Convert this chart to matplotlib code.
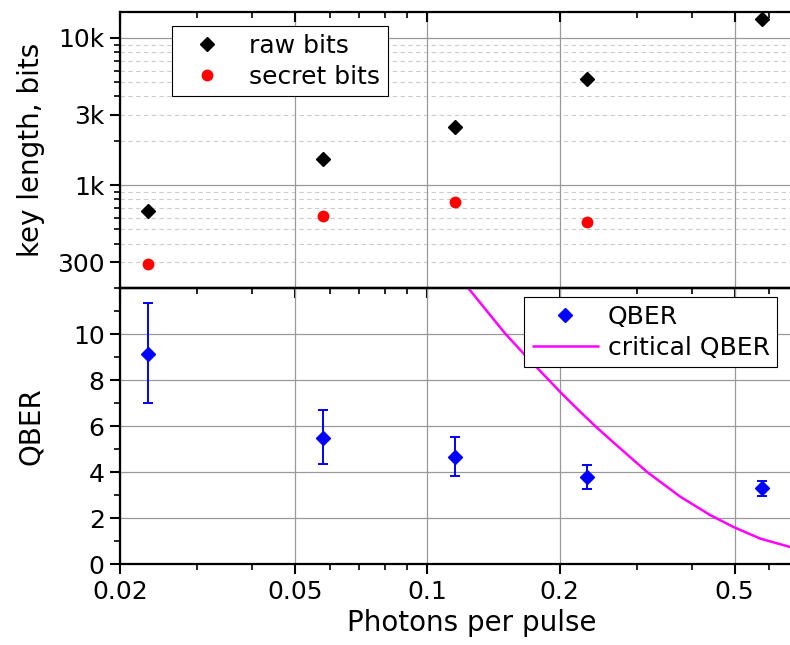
import numpy as np
import matplotlib
matplotlib.use("Agg")
import matplotlib.pyplot as plt
from matplotlib.ticker import FixedLocator, FixedFormatter, NullFormatter

plt.rcParams['font.family'] = ['DejaVu Sans']
plt.rcParams['font.size'] = 18

# mean photon number per pulse
photons = [0.0232, 0.058, 0.1156, 0.231, 0.577]

# key lengths (bits)
raw_bits = [667, 1500, 2500, 5230, 13370]
secret_bits = [292, 617, 767, 562]

# QBER (%) with error bars
qber = [9.15, 5.5, 4.68, 3.8, 3.3]
qber_hi = [11.35, 6.7, 5.52, 4.33, 3.62]
qber_lo = [7.0, 4.35, 3.83, 3.26, 2.96]

# critical QBER curve
crit_x = [0.1236, 0.1502, 0.1654, 0.2004, 0.2225, 0.2429, 0.2651,
          0.3156, 0.3758, 0.4396, 0.497, 0.571, 0.669]
crit_y = [12.02, 10.03, 9.16, 7.49, 6.63, 5.94, 5.29,
          4.02, 2.94, 2.14, 1.62, 1.12, 0.75]

x_major = [0.02, 0.05, 0.1, 0.2, 0.5]
x_minor = [0.03, 0.04, 0.06, 0.07, 0.08, 0.09, 0.3, 0.4, 0.6]
x_labels = ['0.02', '0.05', '0.1', '0.2', '0.5']

k_major = [300, 1000, 3000, 10000]
k_labels = ['300', '1k', '3k', '10k']
k_minor = [200, 400, 500, 600, 700, 800, 900,
           2000, 4000, 5000, 6000, 7000, 8000, 9000]

fig = plt.figure(figsize=(7.9, 6.45), dpi=100)
ax1 = fig.add_axes([0.1519, 0.5535, 0.8481, 0.4279])
ax2 = fig.add_axes([0.1519, 0.1251, 0.8481, 0.4284])
ax2.patch.set_visible(False)

for ax in (ax1, ax2):
    ax.set_xscale('log')
    ax.set_xlim(0.02, 0.668)
    ax.xaxis.set_major_locator(FixedLocator(x_major))
    ax.xaxis.set_minor_locator(FixedLocator(x_minor))
    ax.xaxis.set_minor_formatter(NullFormatter())
    for s in ('left', 'top', 'bottom'):
        ax.spines[s].set_linewidth(1.6)
    ax.spines['right'].set_visible(False)
    ax.tick_params(which='major', length=7, width=1.5, pad=4)
    ax.tick_params(which='minor', length=4, width=1.2)
    ax.tick_params(axis='y', which='both', direction='out')
    ax.set_axisbelow(True)
    ax.grid(axis='x', which='major', color='#999999', lw=0.9)

# ---- top panel: key length
ax1.set_yscale('log')
ax1.set_ylim(200, 15000)
ax1.yaxis.set_major_locator(FixedLocator(k_major))
ax1.yaxis.set_major_formatter(FixedFormatter(k_labels))
ax1.yaxis.set_minor_locator(FixedLocator(k_minor))
ax1.yaxis.set_minor_formatter(NullFormatter())
ax1.tick_params(axis='x', which='both', direction='in', top=True, bottom=False,
                labelbottom=False)
for v in [1000, 10000]:
    ax1.axhline(v, color='#999999', lw=0.9, zorder=0)
for v in k_minor + [300, 3000]:
    ax1.axhline(v, color='#cccccc', lw=0.8, ls=(0, (4, 3)), zorder=0)

ax1.plot(photons, raw_bits, 'D', color='black', ms=7.5, ls='none', label='raw bits')
ax1.plot(photons[:4], secret_bits, 'o', color='red', ms=7.5, ls='none', label='secret bits')
ax1.set_ylabel('key length, bits', fontsize=20)
ax1.yaxis.set_label_coords(-0.112, 0.5)
leg1 = ax1.legend(loc='upper left', bbox_to_anchor=(0.0776, 0.949), borderaxespad=0,
                  fancybox=False, edgecolor='black', framealpha=1, borderpad=0.3,
                  labelspacing=0.28, handlelength=2.2, handletextpad=0.6)
leg1.get_frame().set_linewidth(0.8)

# ---- bottom panel: QBER
ax2.set_ylim(0, 12)
ax2.yaxis.set_major_locator(FixedLocator([0, 2, 4, 6, 8, 10]))
ax2.yaxis.set_minor_locator(FixedLocator([1, 3, 5, 7, 9, 11]))
ax2.grid(axis='y', which='major', color='#999999', lw=0.9)
ax2.tick_params(axis='x', which='both', direction='out', bottom=True, top=False)
ax2.xaxis.set_major_formatter(FixedFormatter(x_labels))

# inward ticks along the shared edge
sec = ax2.secondary_xaxis('top')
sec.xaxis.set_major_locator(FixedLocator(x_major))
sec.xaxis.set_minor_locator(FixedLocator(x_minor))
sec.tick_params(which='both', direction='in', labeltop=False)
sec.tick_params(which='major', length=7, width=1.5)
sec.tick_params(which='minor', length=4, width=1.2)
sec.spines['top'].set_linewidth(1.6)

yerr = [np.array(qber) - np.array(qber_lo), np.array(qber_hi) - np.array(qber)]
ax2.errorbar(photons, qber, yerr=yerr, fmt='D', color='blue', ms=7.5, elinewidth=1.4,
             capsize=3.5, capthick=1.4)
crit, = ax2.plot(crit_x, crit_y, color='#ff00ff', lw=1.8, solid_capstyle='butt',
                 solid_joinstyle='round')
qb_handle, = ax2.plot([], [], 'D', color='blue', ms=7.5, ls='none')
ax2.set_ylabel('QBER', fontsize=20)
ax2.yaxis.set_label_coords(-0.112, 0.5)
ax2.set_xlabel('Photons per pulse', fontsize=20)
ax2.xaxis.set_label_coords(0.525, -0.16)
leg2 = ax2.legend([qb_handle, crit], ['QBER', 'critical QBER'], loc='upper left',
                  bbox_to_anchor=(0.603, 0.967), borderaxespad=0,
                  fancybox=False, edgecolor='black', framealpha=1, borderpad=0.3,
                  labelspacing=0.28, handlelength=2.7, handletextpad=0.35)
leg2.get_frame().set_linewidth(0.8)

fig.savefig('out.png', dpi=100)
